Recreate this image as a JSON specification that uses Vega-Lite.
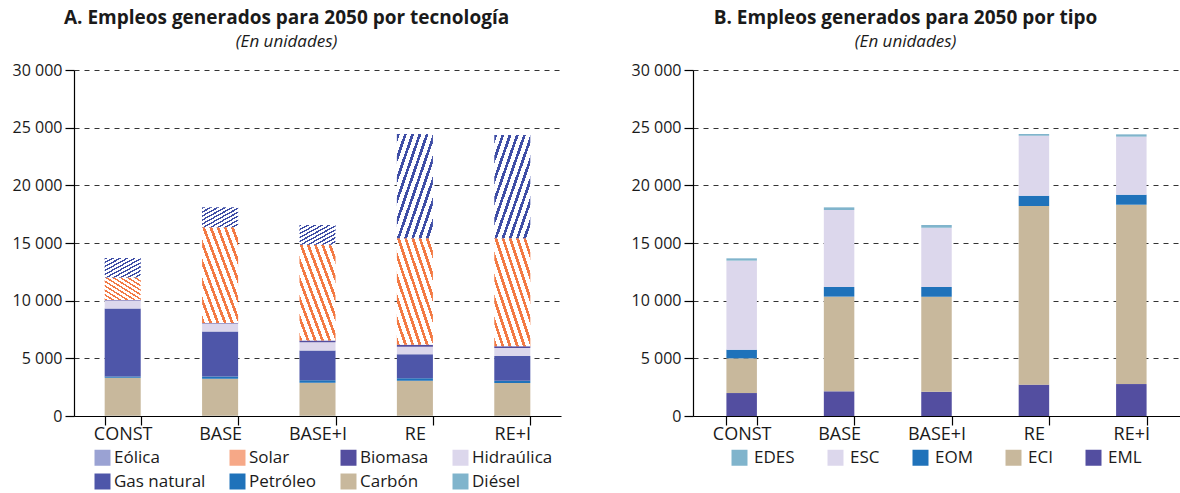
{
  "$schema": "https://vega.github.io/schema/vega-lite/v6.json",
  "background": "white",
  "padding": {"left": 12, "top": 9, "right": 0, "bottom": 0},
  "config": {
    "view": {"stroke": null},
    "font": "Open Sans",
    "axis": {"labelFont": "Open Sans", "labelFontSize": 16, "labelColor": "#1a1a1a", "domainColor": "#000", "tickColor": "#000", "tickSize": 9, "domainWidth": 1.2, "tickWidth": 1.2, "title": null},
    "axisY": {"gridColor": "#333", "gridDash": [5, 5], "gridWidth": 1, "labelPadding": 3},
    "axisX": {"labelPadding": 0, "labelAngle": 0, "grid": false, "tickBand": "extent", "labelFontSize": 18},
    "legend": {"labelFont": "Open Sans", "labelFontSize": 17, "labelColor": "#1a1a1a", "symbolSize": 256, "symbolType": "square", "symbolStrokeWidth": 0, "title": null},
    "title": {"anchor": "middle", "frame": "bounds", "font": "Open Sans", "fontSize": 19, "fontWeight": "bold", "color": "#1a1a1a", "subtitleFont": "Open Sans", "subtitleFontSize": 17, "subtitleFontStyle": "italic", "subtitleColor": "#1a1a1a", "subtitlePadding": 6, "offset": 12}
  },
  "datasets": {
    "tech": [
      {"escenario": "CONST", "tecnologia": "Diésel", "empleos": 20},
      {"escenario": "CONST", "tecnologia": "Carbón", "empleos": 3300},
      {"escenario": "CONST", "tecnologia": "Petróleo", "empleos": 100},
      {"escenario": "CONST", "tecnologia": "Gas natural", "empleos": 5900},
      {"escenario": "CONST", "tecnologia": "Hidraúlica", "empleos": 700},
      {"escenario": "CONST", "tecnologia": "Biomasa", "empleos": 30},
      {"escenario": "CONST", "tecnologia": "Solar", "empleos": 1950},
      {"escenario": "CONST", "tecnologia": "Eólica", "empleos": 1700},
      {"escenario": "BASE", "tecnologia": "Diésel", "empleos": 20},
      {"escenario": "BASE", "tecnologia": "Carbón", "empleos": 3200},
      {"escenario": "BASE", "tecnologia": "Petróleo", "empleos": 200},
      {"escenario": "BASE", "tecnologia": "Gas natural", "empleos": 3900},
      {"escenario": "BASE", "tecnologia": "Hidraúlica", "empleos": 700},
      {"escenario": "BASE", "tecnologia": "Biomasa", "empleos": 40},
      {"escenario": "BASE", "tecnologia": "Solar", "empleos": 8300},
      {"escenario": "BASE", "tecnologia": "Eólica", "empleos": 1730},
      {"escenario": "BASE+I", "tecnologia": "Diésel", "empleos": 20},
      {"escenario": "BASE+I", "tecnologia": "Carbón", "empleos": 2870},
      {"escenario": "BASE+I", "tecnologia": "Petróleo", "empleos": 200},
      {"escenario": "BASE+I", "tecnologia": "Gas natural", "empleos": 2600},
      {"escenario": "BASE+I", "tecnologia": "Hidraúlica", "empleos": 700},
      {"escenario": "BASE+I", "tecnologia": "Biomasa", "empleos": 150},
      {"escenario": "BASE+I", "tecnologia": "Solar", "empleos": 8310},
      {"escenario": "BASE+I", "tecnologia": "Eólica", "empleos": 1710},
      {"escenario": "RE", "tecnologia": "Diésel", "empleos": 20},
      {"escenario": "RE", "tecnologia": "Carbón", "empleos": 3040},
      {"escenario": "RE", "tecnologia": "Petróleo", "empleos": 210},
      {"escenario": "RE", "tecnologia": "Gas natural", "empleos": 2080},
      {"escenario": "RE", "tecnologia": "Hidraúlica", "empleos": 660},
      {"escenario": "RE", "tecnologia": "Biomasa", "empleos": 170},
      {"escenario": "RE", "tecnologia": "Solar", "empleos": 9230},
      {"escenario": "RE", "tecnologia": "Eólica", "empleos": 9040},
      {"escenario": "RE+I", "tecnologia": "Diésel", "empleos": 20},
      {"escenario": "RE+I", "tecnologia": "Carbón", "empleos": 2840},
      {"escenario": "RE+I", "tecnologia": "Petróleo", "empleos": 200},
      {"escenario": "RE+I", "tecnologia": "Gas natural", "empleos": 2140},
      {"escenario": "RE+I", "tecnologia": "Hidraúlica", "empleos": 700},
      {"escenario": "RE+I", "tecnologia": "Biomasa", "empleos": 140},
      {"escenario": "RE+I", "tecnologia": "Solar", "empleos": 9370},
      {"escenario": "RE+I", "tecnologia": "Eólica", "empleos": 8960}
    ],
    "tipo": [
      {"escenario": "CONST", "tipo": "EML", "empleos": 1990},
      {"escenario": "CONST", "tipo": "ECI", "empleos": 3010},
      {"escenario": "CONST", "tipo": "EOM", "empleos": 750},
      {"escenario": "CONST", "tipo": "ESC", "empleos": 7720},
      {"escenario": "CONST", "tipo": "EDES", "empleos": 200},
      {"escenario": "BASE", "tipo": "EML", "empleos": 2140},
      {"escenario": "BASE", "tipo": "ECI", "empleos": 8210},
      {"escenario": "BASE", "tipo": "EOM", "empleos": 840},
      {"escenario": "BASE", "tipo": "ESC", "empleos": 6670},
      {"escenario": "BASE", "tipo": "EDES", "empleos": 230},
      {"escenario": "BASE+I", "tipo": "EML", "empleos": 2110},
      {"escenario": "BASE+I", "tipo": "ECI", "empleos": 8240},
      {"escenario": "BASE+I", "tipo": "EOM", "empleos": 840},
      {"escenario": "BASE+I", "tipo": "ESC", "empleos": 5140},
      {"escenario": "BASE+I", "tipo": "EDES", "empleos": 230},
      {"escenario": "RE", "tipo": "EML", "empleos": 2720},
      {"escenario": "RE", "tipo": "ECI", "empleos": 15490},
      {"escenario": "RE", "tipo": "EOM", "empleos": 890},
      {"escenario": "RE", "tipo": "ESC", "empleos": 5200},
      {"escenario": "RE", "tipo": "EDES", "empleos": 150},
      {"escenario": "RE+I", "tipo": "EML", "empleos": 2770},
      {"escenario": "RE+I", "tipo": "ECI", "empleos": 15550},
      {"escenario": "RE+I", "tipo": "EOM", "empleos": 870},
      {"escenario": "RE+I", "tipo": "ESC", "empleos": 5030},
      {"escenario": "RE+I", "tipo": "EDES", "empleos": 200}
    ]
  },
  "spacing": 70,
  "resolve": {"scale": {"fill": "independent", "color": "independent"}, "legend": {"fill": "independent", "color": "independent"}},
  "hconcat": [
    {
      "width": 487,
      "height": 346,
      "data": {"name": "tech"},
      "transform": [{"window": [{"op": "row_number", "as": "fila"}]}],
      "title": {"text": "A. Empleos generados para 2050 por tecnología", "subtitle": "(En unidades)"},
      "mark": {"type": "bar"},
      "encoding": {
        "x": {"field": "escenario", "type": "nominal", "sort": ["CONST", "BASE", "BASE+I", "RE", "RE+I"], "scale": {"paddingInner": 0.63, "paddingOuter": 0.315}, "axis": {}},
        "y": {"field": "empleos", "type": "quantitative", "stack": "zero", "scale": {"domain": [0, 30000], "nice": false}, "axis": {"values": [0, 5000, 10000, 15000, 20000, 25000, 30000], "grid": true, "labelExpr": "replace(format(datum.value, ','), ',', ' ')"}},
        "order": {"field": "fila", "type": "quantitative", "sort": "ascending"},
        "fill": {
          "condition": [
            {"test": "datum.tecnologia === 'Eólica'", "value": {"gradient": "linear", "x1": 0, "y1": 0, "x2": 1, "y2": 1, "stops": [
                {"offset": 0, "color": "#3f4ea6"}, {"offset": 0.04, "color": "#3f4ea6"}, {"offset": 0.04, "color": "#ffffff"}, {"offset": 0.1, "color": "#ffffff"},
                {"offset": 0.1, "color": "#3f4ea6"}, {"offset": 0.14, "color": "#3f4ea6"}, {"offset": 0.14, "color": "#ffffff"}, {"offset": 0.2, "color": "#ffffff"},
                {"offset": 0.2, "color": "#3f4ea6"}, {"offset": 0.24, "color": "#3f4ea6"}, {"offset": 0.24, "color": "#ffffff"}, {"offset": 0.3, "color": "#ffffff"},
                {"offset": 0.3, "color": "#3f4ea6"}, {"offset": 0.34, "color": "#3f4ea6"}, {"offset": 0.34, "color": "#ffffff"}, {"offset": 0.4, "color": "#ffffff"},
                {"offset": 0.4, "color": "#3f4ea6"}, {"offset": 0.44, "color": "#3f4ea6"}, {"offset": 0.44, "color": "#ffffff"}, {"offset": 0.5, "color": "#ffffff"},
                {"offset": 0.5, "color": "#3f4ea6"}, {"offset": 0.54, "color": "#3f4ea6"}, {"offset": 0.54, "color": "#ffffff"}, {"offset": 0.6, "color": "#ffffff"},
                {"offset": 0.6, "color": "#3f4ea6"}, {"offset": 0.64, "color": "#3f4ea6"}, {"offset": 0.64, "color": "#ffffff"}, {"offset": 0.7, "color": "#ffffff"},
                {"offset": 0.7, "color": "#3f4ea6"}, {"offset": 0.74, "color": "#3f4ea6"}, {"offset": 0.74, "color": "#ffffff"}, {"offset": 0.8, "color": "#ffffff"},
                {"offset": 0.8, "color": "#3f4ea6"}, {"offset": 0.84, "color": "#3f4ea6"}, {"offset": 0.84, "color": "#ffffff"}, {"offset": 0.9, "color": "#ffffff"},
                {"offset": 0.9, "color": "#3f4ea6"}, {"offset": 0.94, "color": "#3f4ea6"}, {"offset": 0.94, "color": "#ffffff"}, {"offset": 1, "color": "#ffffff"}
              ]}},
            {"test": "datum.tecnologia === 'Solar'", "value": {"gradient": "linear", "x1": 0, "y1": 1, "x2": 1, "y2": 0, "stops": [
                {"offset": 0, "color": "#f37a44"}, {"offset": 0.04, "color": "#f37a44"}, {"offset": 0.04, "color": "#ffffff"}, {"offset": 0.1, "color": "#ffffff"},
                {"offset": 0.1, "color": "#f37a44"}, {"offset": 0.14, "color": "#f37a44"}, {"offset": 0.14, "color": "#ffffff"}, {"offset": 0.2, "color": "#ffffff"},
                {"offset": 0.2, "color": "#f37a44"}, {"offset": 0.24, "color": "#f37a44"}, {"offset": 0.24, "color": "#ffffff"}, {"offset": 0.3, "color": "#ffffff"},
                {"offset": 0.3, "color": "#f37a44"}, {"offset": 0.34, "color": "#f37a44"}, {"offset": 0.34, "color": "#ffffff"}, {"offset": 0.4, "color": "#ffffff"},
                {"offset": 0.4, "color": "#f37a44"}, {"offset": 0.44, "color": "#f37a44"}, {"offset": 0.44, "color": "#ffffff"}, {"offset": 0.5, "color": "#ffffff"},
                {"offset": 0.5, "color": "#f37a44"}, {"offset": 0.54, "color": "#f37a44"}, {"offset": 0.54, "color": "#ffffff"}, {"offset": 0.6, "color": "#ffffff"},
                {"offset": 0.6, "color": "#f37a44"}, {"offset": 0.64, "color": "#f37a44"}, {"offset": 0.64, "color": "#ffffff"}, {"offset": 0.7, "color": "#ffffff"},
                {"offset": 0.7, "color": "#f37a44"}, {"offset": 0.74, "color": "#f37a44"}, {"offset": 0.74, "color": "#ffffff"}, {"offset": 0.8, "color": "#ffffff"},
                {"offset": 0.8, "color": "#f37a44"}, {"offset": 0.84, "color": "#f37a44"}, {"offset": 0.84, "color": "#ffffff"}, {"offset": 0.9, "color": "#ffffff"},
                {"offset": 0.9, "color": "#f37a44"}, {"offset": 0.94, "color": "#f37a44"}, {"offset": 0.94, "color": "#ffffff"}, {"offset": 1, "color": "#ffffff"}
              ]}}
          ],
          "field": "tecnologia", "type": "nominal",
          "sort": ["Eólica", "Solar", "Biomasa", "Hidraúlica", "Gas natural", "Petróleo", "Carbón", "Diésel"],
          "scale": {
            "domain": ["Eólica", "Solar", "Biomasa", "Hidraúlica", "Gas natural", "Petróleo", "Carbón", "Diésel"],
            "range": ["#9aa2d3", "#f6a887", "#544e9f", "#dcd7ec", "#4e56a9", "#1f72ba", "#c8b89c", "#80b4cc"]
          },
          "legend": {"orient": "none", "legendX": 20, "legendY": 379, "columns": 4, "columnPadding": 23, "rowPadding": 6, "labelOffset": 3, "direction": "horizontal"}
        }
      }
    },
    {
      "width": 487,
      "height": 346,
      "data": {"name": "tipo"},
      "transform": [{"window": [{"op": "row_number", "as": "fila"}]}],
      "title": {"text": "B. Empleos generados para 2050 por tipo", "subtitle": "(En unidades)"},
      "mark": {"type": "bar"},
      "encoding": {
        "x": {"field": "escenario", "type": "nominal", "sort": ["CONST", "BASE", "BASE+I", "RE", "RE+I"], "scale": {"paddingInner": 0.687, "paddingOuter": 0.343}, "axis": {}},
        "y": {"field": "empleos", "type": "quantitative", "stack": "zero", "scale": {"domain": [0, 30000], "nice": false}, "axis": {"values": [0, 5000, 10000, 15000, 20000, 25000, 30000], "grid": true, "labelExpr": "replace(format(datum.value, ','), ',', ' ')"}},
        "order": {"field": "fila", "type": "quantitative", "sort": "ascending"},
        "fill": {
          "field": "tipo", "type": "nominal",
          "sort": ["EDES", "ESC", "EOM", "ECI", "EML"],
          "scale": {"domain": ["EDES", "ESC", "EOM", "ECI", "EML"], "range": ["#80b4cc", "#dcd7ec", "#1f72ba", "#c8b89c", "#534ea0"]},
          "legend": {"orient": "none", "legendX": 38, "legendY": 379, "columns": 5, "columnPadding": 32, "labelOffset": 6, "direction": "horizontal"}
        }
      }
    }
  ]
}
